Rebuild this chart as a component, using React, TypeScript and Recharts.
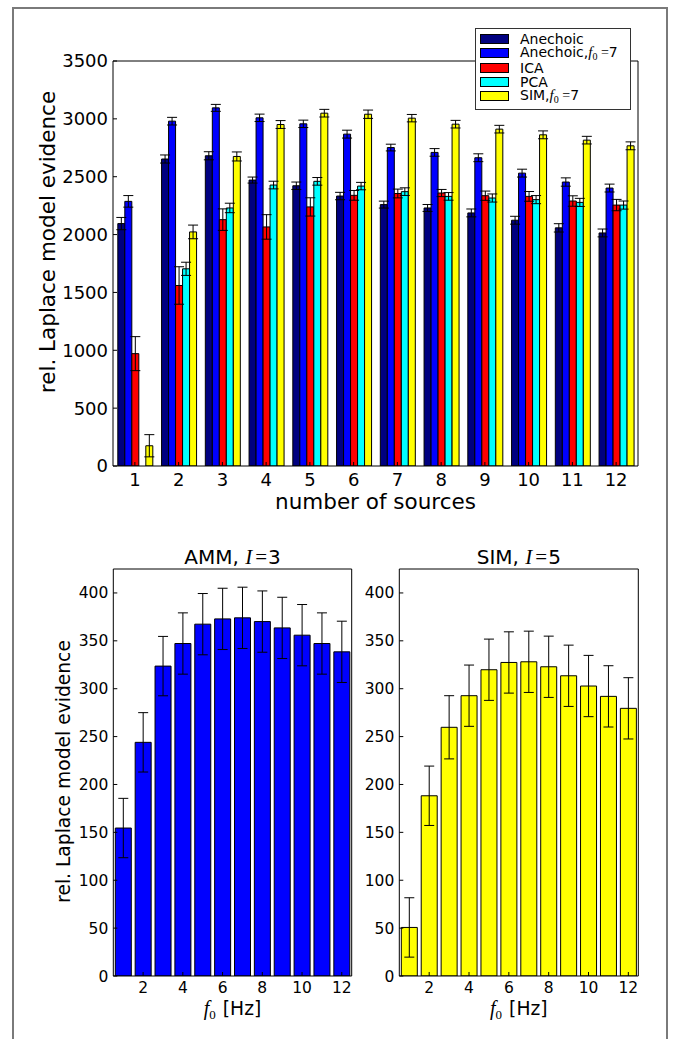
import React from 'react';
import { BarChart, Bar, Line, XAxis, YAxis, ErrorBar, Legend } from 'recharts';

// top panel: evidence vs number of sources
const sources = [1, 2, 3, 4, 5, 6, 7, 8, 9, 10, 11, 12];
const anechoic = [2095, 2653, 2681, 2471, 2422, 2333, 2259, 2230, 2187, 2124, 2058, 2014];
const anechoicErr = [53, 35, 35, 26, 32, 32, 30, 30, 34, 34, 36, 34];
const anechoicF0 = [2287, 2980, 3095, 3009, 2957, 2868, 2752, 2710, 2664, 2531, 2454, 2402];
const anechoicF0Err = [50, 33, 30, 32, 32, 34, 29, 33, 34, 34, 36, 34];
const ica = [971, 1560, 2129, 2066, 2239, 2339, 2355, 2359, 2336, 2330, 2290, 2255];
const icaErr = [147, 162, 93, 106, 79, 42, 38, 31, 40, 42, 45, 49];
const pca = [0, 1704, 2230, 2428, 2460, 2419, 2371, 2330, 2316, 2302, 2278, 2255];
const pcaErr = [90, 57, 41, 33, 33, 32, 33, 33, 35, 35, 35, 35];
const simF0 = [175, 2023, 2675, 2951, 3049, 3040, 3006, 2954, 2911, 2862, 2816, 2767];
const simF0Err = [96, 59, 39, 34, 33, 36, 32, 33, 33, 34, 33, 34];
const topTicks = [0, 500, 1000, 1500, 2000, 2500, 3000, 3500];

// bottom panels: evidence vs f0
const f0 = [1, 2, 3, 4, 5, 6, 7, 8, 9, 10, 11, 12];
const amm = [154.5, 244, 323.6, 347.2, 367.4, 372.9, 374, 370.1, 363.5, 355.9, 347.2, 338.5];
const ammErr = [31, 31, 31, 32, 32, 32, 32, 32, 32, 32, 32, 32];
const sim = [50.7, 188.2, 259.7, 292.7, 319.8, 327.4, 328.1, 322.9, 313.5, 302.8, 292, 279.5];
const simErr = [31, 31, 33, 32, 32, 32, 32, 32, 32, 32, 32, 32];
const bottomTicks = [0, 50, 100, 150, 200, 250, 300, 350, 400];
const f0Ticks = [2, 4, 6, 8, 10, 12];

const topData = sources.map((n, i) => ({
  n,
  anechoic: anechoic[i], anechoicErr: anechoicErr[i],
  anechoicF0: anechoicF0[i], anechoicF0Err: anechoicF0Err[i],
  ica: ica[i], icaErr: icaErr[i],
  pca: pca[i], pcaErr: pcaErr[i],
  simF0: simF0[i], simF0Err: simF0Err[i],
}));
const ammData = f0.map((f, i) => ({ f, v: amm[i], e: ammErr[i] }));
const simData = f0.map((f, i) => ({ f, v: sim[i], e: simErr[i] }));

const series = [
  { key: 'anechoic', err: 'anechoicErr', color: '#000080', label: 'Anechoic', f0: false },
  { key: 'anechoicF0', err: 'anechoicF0Err', color: '#0000ff', label: 'Anechoic,', f0: true },
  { key: 'ica', err: 'icaErr', color: '#ff0000', label: 'ICA', f0: false },
  { key: 'pca', err: 'pcaErr', color: '#00ffff', label: 'PCA', f0: false },
  { key: 'simF0', err: 'simF0Err', color: '#ffff00', label: 'SIM,', f0: true },
];

const SANS = '"DejaVu Sans", sans-serif';
const MATH = '"Liberation Serif", serif';

const renderLegend = () => (
  <div style={{
    width: 156, height: 82, boxSizing: 'border-box', border: '1px solid #333',
    background: '#fff', paddingTop: 3, paddingLeft: 4, fontFamily: SANS, fontSize: 14,
  }}>
    {series.map((s) => (
      <div key={s.key} style={{ display: 'flex', alignItems: 'center', height: 14.25, lineHeight: '14px', whiteSpace: 'nowrap' }}>
        <span style={{ display: 'inline-block', width: 29, height: 10, boxSizing: 'border-box', background: s.color, border: '1px solid #000', marginRight: 11 }} />
        <span>
          {s.label}
          {s.f0 && (
            <>
              <span style={{ fontFamily: MATH, fontStyle: 'italic', fontSize: 15 }}>f</span>
              <span style={{ fontFamily: MATH, fontSize: 10, position: 'relative', top: 3 }}>0</span>
              <span style={{ fontFamily: MATH }}> =</span>7
            </>
          )}
        </span>
      </div>
    ))}
  </div>
);

const topYLabel = () => (
  <text x={47} y={242} transform="rotate(-90 47 242)" textAnchor="middle" dominantBaseline="central"
    fontSize={21.5} fill="#000" fontFamily={SANS}>rel. Laplace model evidence</text>
);
const topXLabel = () => (
  <text x={375.5} y={509} textAnchor="middle" fontSize={21.5} fill="#000" fontFamily={SANS}>number of sources</text>
);

const f0Label = (cx: number) => () => (
  <text x={cx} y={485} textAnchor="middle" fontSize={18.7} fill="#000" fontFamily={SANS}>
    <tspan fontFamily={MATH} fontStyle="italic" fontSize={20}>f</tspan>
    <tspan fontFamily={MATH} fontSize={13} dy={4}>0</tspan>
    <tspan dy={-4} dx={7}>[Hz]</tspan>
  </text>
);

const title = (cx: number, name: string, i: number) => () => (
  <text x={cx} y={34} textAnchor="middle" fontSize={20} fill="#000" fontFamily={SANS}>
    {name}, <tspan fontFamily={MATH} fontStyle="italic" fontSize={21}>I</tspan>
    <tspan fontFamily={MATH} fontSize={21} dx={3}>=</tspan><tspan dx={1}>{i}</tspan>
  </text>
);

const bottomYLabel = () => (
  <text x={63} y={241.5} transform="rotate(-90 63 241.5)" textAnchor="middle" dominantBaseline="central"
    fontSize={18.7} fill="#000" fontFamily={SANS}>rel. Laplace model evidence</text>
);

const axisColor = '#000';

function SmallChart({ data, color, left, width, yWidth, marginLeft, marginRight, titleNode, xLabel, yLabel }: any) {
  return (
    <div style={{ position: 'absolute', left, top: 530 }}>
      <BarChart width={width} height={496} data={data}
        margin={{ top: 38, right: marginRight, left: marginLeft, bottom: 0 }}>
        <XAxis xAxisId="b" type="number" dataKey="f" domain={[0.5, 12.5]} ticks={f0Ticks} height={50}
          tickSize={-4} tickMargin={10} stroke={axisColor} tick={{ fill: '#000', fontSize: 15.5 }} label={xLabel} />
        <XAxis xAxisId="t" orientation="top" type="number" dataKey="f" domain={[0.5, 12.5]} ticks={f0Ticks}
          height={1} tickSize={-4} tick={false} stroke={axisColor} label={titleNode} />
        <YAxis yAxisId="l" width={yWidth} domain={[0, 425]} ticks={bottomTicks} allowDataOverflow
          tickSize={-4} tickMargin={9} stroke={axisColor} tick={{ fill: '#000', fontSize: 15.5 }} label={yLabel} />
        <YAxis yAxisId="r" orientation="right" width={1} domain={[0, 425]} ticks={bottomTicks} allowDataOverflow
          tickSize={-4} tick={false} stroke={axisColor} />
        <Bar xAxisId="b" yAxisId="l" dataKey="v" fill={color} stroke="#000" strokeWidth={1} barSize={16}
          isAnimationActive={false}>
          <ErrorBar dataKey="e" width={5} stroke="#000" strokeWidth={1} direction="y" isAnimationActive={false} />
        </Bar>
        {/* invisible series so the mirrored top/right axes get drawn */}
        <Line xAxisId="t" yAxisId="r" dataKey="v" stroke="none" dot={false} activeDot={false}
          legendType="none" isAnimationActive={false} />
      </BarChart>
    </div>
  );
}

export default function App() {
  return (
    <div style={{ position: 'absolute', left: 0, top: 0, width: 673, height: 1039, background: '#fff', overflow: 'hidden', fontFamily: SANS }}>
      <div style={{ position: 'absolute', left: 12, top: 7, width: 652, height: 1100, borderTop: '2px solid #7a7a7a', borderLeft: '2px solid #7a7a7a', borderRight: '2px solid #7a7a7a' }} />

      <div style={{ position: 'absolute', left: 0, top: 0 }}>
        <BarChart width={673} height={520} data={topData} margin={{ top: 60, right: 34, left: 13, bottom: 0 }}
          barCategoryGap="11%" barGap={0}>
          <XAxis xAxisId="b" dataKey="n" height={54} tickSize={-4} tickMargin={11.5} stroke={axisColor}
            tick={{ fill: '#000', fontSize: 18 }} label={topXLabel} />
          <XAxis xAxisId="t" dataKey="n" orientation="top" height={1} tickSize={-4} tick={false} stroke={axisColor} />
          <YAxis yAxisId="l" width={100} domain={[0, 3500]} ticks={topTicks} allowDataOverflow tickSize={-4}
            tickMargin={9} stroke={axisColor} tick={{ fill: '#000', fontSize: 18 }} label={topYLabel} />
          <YAxis yAxisId="r" orientation="right" width={1} domain={[0, 3500]} ticks={topTicks} allowDataOverflow
            tickSize={-4} tick={false} stroke={axisColor} />
          {series.map((s) => (
            <Bar key={s.key} xAxisId="b" yAxisId="l" dataKey={s.key} name={s.label} fill={s.color} stroke="#000"
              strokeWidth={1} isAnimationActive={false}>
              <ErrorBar dataKey={s.err} width={5} stroke="#000" strokeWidth={1} direction="y" isAnimationActive={false} />
            </Bar>
          ))}
          {/* invisible series so the mirrored top/right axes get drawn */}
          <Line xAxisId="t" yAxisId="r" dataKey="anechoic" stroke="none" dot={false} activeDot={false}
            legendType="none" isAnimationActive={false} />
          <Legend layout="vertical" align="center" verticalAlign="middle" content={renderLegend}
            wrapperStyle={{ left: 475, top: 28, width: 156, height: 82 }} />
        </BarChart>
      </div>

      <SmallChart data={ammData} color="#0000ff" left={0} width={360} yWidth={100} marginLeft={13.3} marginRight={7.3}
        titleNode={title(232.5, 'AMM', 3)} xLabel={f0Label(232.5)} yLabel={bottomYLabel} />
      <SmallChart data={simData} color="#ffff00" left={340} width={333} yWidth={50} marginLeft={9.3} marginRight={33.7}
        titleNode={title(178.8, 'SIM', 5)} xLabel={f0Label(178.8)} yLabel={undefined} />
    </div>
  );
}
